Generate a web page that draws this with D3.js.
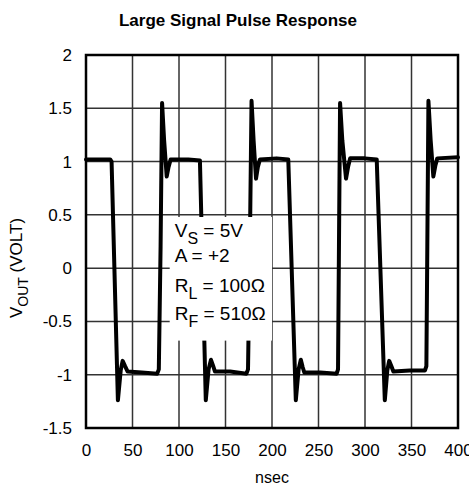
<!DOCTYPE html>
<html>
<head>
<meta charset="utf-8">
<script src="https://cdn.jsdelivr.net/npm/d3@7"></script>
<style>
  body { margin: 0; background: #fff; }
  text { font-family: "Liberation Sans", Arial, sans-serif; }
</style>
</head>
<body>
<div id="chart"></div>
<script>
// time axis (nsec) and output voltage
const timeNs = [
  0, 26, 27.5, 34.3, 37.3, 39.4, 42, 44.8, 60, 76.5, 78.3, 80.2, 81.8, 84, 86.8, 88.8, 91,
  110, 122.5, 128.8, 131.8, 134.4, 136.8, 138.7, 155, 172.5, 174.2, 176.2, 178, 180.2, 182.8, 184.8, 187,
  205, 217.5, 225.6, 228.6, 231, 233, 234.8, 252, 269.5, 271, 272, 273.2, 275.6, 279.6, 281.8, 284,
  300, 312.6, 321.3, 324, 326, 328.4, 330.5, 348, 364.5, 366, 367, 368.2, 370.6, 373.5, 375.6, 377.7,
  400
];
const voutV = [
  1.02, 1.02, 1.0, -1.24, -0.96, -0.87, -0.92, -0.97, -0.98, -0.99, -0.95, 0.2, 1.55, 1.2, 0.86, 0.95, 1.02,
  1.02, 1.01, -1.24, -0.95, -0.86, -0.92, -0.97, -0.97, -0.99, -0.95, 0.2, 1.57, 1.2, 0.84, 0.95, 1.02,
  1.03, 1.02, -1.24, -0.95, -0.86, -0.93, -0.98, -0.98, -0.99, -0.95, 0.2, 1.55, 1.2, 0.84, 0.95, 1.03,
  1.03, 1.02, -1.24, -0.96, -0.87, -0.92, -0.97, -0.96, -0.96, -0.92, 0.2, 1.57, 1.2, 0.86, 0.96, 1.03,
  1.04
];

const xTicks = [0, 50, 100, 150, 200, 250, 300, 350, 400];
const yTicks = [-1.5, -1, -0.5, 0, 0.5, 1, 1.5, 2];

const title = 'Large Signal Pulse Response';
const xLabel = 'nsec';
const notes = [
  { main: 'V', sub: 'S', rest: ' = 5V' },
  { main: 'A = +2', sub: '', rest: '' },
  { main: 'R', sub: 'L', rest: ' = 100Ω' },
  { main: 'R', sub: 'F', rest: ' = 510Ω' }
];

const width = 469;
const height = 494;
const margin = { top: 55, right: 10, bottom: 66, left: 86 };
const innerWidth = 372;
const innerHeight = 373;

const svg = d3.select('#chart')
  .append('svg')
  .attr('width', width)
  .attr('height', height);

const x = d3.scaleLinear().domain([0, 400]).range([0, innerWidth]);
const y = d3.scaleLinear().domain([-1.5, 2]).range([innerHeight, 0]);

const g = svg.append('g')
  .attr('transform', `translate(${margin.left},${margin.top})`);

// grid
g.append('g')
  .selectAll('line')
  .data(xTicks)
  .join('line')
    .attr('x1', d => x(d)).attr('x2', d => x(d))
    .attr('y1', 0).attr('y2', innerHeight)
    .attr('stroke', '#333').attr('stroke-width', 1.5);

g.append('g')
  .selectAll('line')
  .data(yTicks)
  .join('line')
    .attr('x1', 0).attr('x2', innerWidth)
    .attr('y1', d => y(d)).attr('y2', d => y(d))
    .attr('stroke', '#333').attr('stroke-width', 1.5);

// the trace
const line = d3.line()
  .x(d => x(d[0]))
  .y(d => y(d[1]));

g.append('path')
  .datum(d3.zip(timeNs, voutV))
  .attr('d', line)
  .attr('fill', 'none')
  .attr('stroke', '#000')
  .attr('stroke-width', 4)
  .attr('stroke-linejoin', 'round')
  .attr('stroke-linecap', 'round');

// frame
g.append('rect')
  .attr('width', innerWidth)
  .attr('height', innerHeight)
  .attr('fill', 'none')
  .attr('stroke', '#000')
  .attr('stroke-width', 2.5);

// note box covers grid and trace
const boxX = x(90), boxY = y(0.48);
g.append('rect')
  .attr('x', boxX)
  .attr('y', boxY)
  .attr('width', x(200) - x(90))
  .attr('height', y(-0.68) - y(0.48))
  .attr('fill', '#fff');

const noteText = g.append('g')
  .attr('font-size', 19);
notes.forEach((n, i) => {
  const t = noteText.append('text')
    .attr('x', boxX + 5)
    .attr('y', boxY + [20, 45, 75, 103][i]);
  t.append('tspan').text(n.main);
  if (n.sub) {
    t.append('tspan').attr('font-size', 16).attr('dy', 7).text(n.sub);
    t.append('tspan').attr('dy', -7).text(n.rest);
  }
});

// axis labels
const xAxis = d3.axisBottom(x).tickValues(xTicks).tickSize(0).tickPadding(16);
g.append('g')
  .attr('transform', `translate(0,${innerHeight})`)
  .call(xAxis)
  .call(a => a.select('.domain').remove())
  .call(a => a.selectAll('text').attr('font-size', 17).attr('fill', '#000')
    .style('font-family', '"Liberation Sans", Arial, sans-serif'));

const yAxis = d3.axisLeft(y).tickValues(yTicks).tickSize(0).tickPadding(14)
  .tickFormat(d => String(d));
g.append('g')
  .call(yAxis)
  .call(a => a.select('.domain').remove())
  .call(a => a.selectAll('text').attr('font-size', 17).attr('fill', '#000')
    .style('font-family', '"Liberation Sans", Arial, sans-serif'));

svg.append('text')
  .attr('x', 238)
  .attr('y', 26)
  .attr('text-anchor', 'middle')
  .attr('font-size', 17)
  .attr('font-weight', 'bold')
  .text(title);

svg.append('text')
  .attr('x', margin.left + innerWidth / 2)
  .attr('y', 483)
  .attr('text-anchor', 'middle')
  .attr('font-size', 16)
  .text(xLabel);

const yl = svg.append('text')
  .attr('transform', 'translate(22,268) rotate(-90)')
  .attr('text-anchor', 'middle')
  .attr('font-size', 17);
yl.append('tspan').text('V');
yl.append('tspan').attr('font-size', 14).attr('dy', 6).text('OUT');
yl.append('tspan').attr('dy', -6).text('  (VOLT)');
</script>
</body>
</html>
